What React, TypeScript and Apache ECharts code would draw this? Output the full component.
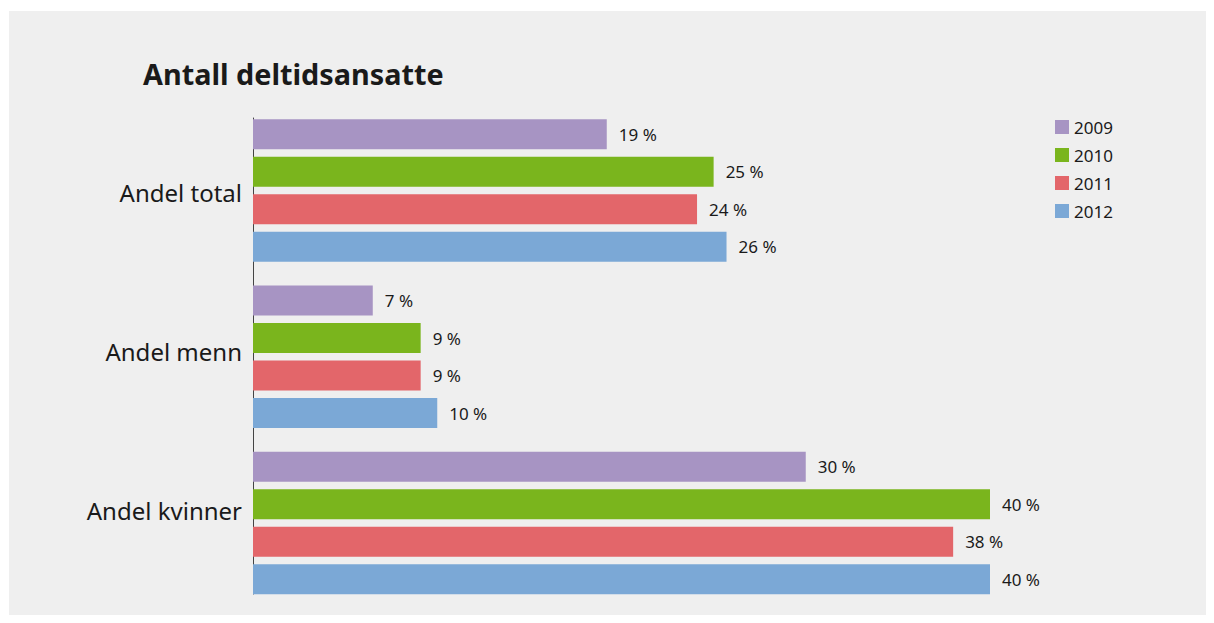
import React, { useEffect, useRef } from "react";
import * as echarts from "echarts";

const categories = ["Andel total", "Andel menn", "Andel kvinner"];
const years = ["2009", "2010", "2011", "2012"];
const v2009 = [19.2, 6.5, 30];
const v2010 = [25, 9.1, 40];
const v2011 = [24.1, 9.1, 38];
const v2012 = [25.7, 10, 40];
const seriesValues = [v2009, v2010, v2011, v2012];
const colors = ["#a794c3", "#7ab51d", "#e3666a", "#7ba8d6"];
const FONT = "'Noto Sans', sans-serif";

export default function App() {
  const ref = useRef<HTMLDivElement>(null);
  useEffect(() => {
    if (!ref.current) return;
    const chart = echarts.init(ref.current, undefined, { renderer: "svg" });
    chart.setOption({
      animation: false,
      backgroundColor: "#ffffff",
      graphic: [
        {
          type: "rect",
          z: -100,
          silent: true,
          shape: { x: 9, y: 11, width: 1197, height: 604 },
          style: { fill: "#efefef" },
        },
      ],
      title: {
        text: "Antall deltidsansatte",
        left: 143,
        top: 59,
        padding: 0,
        textStyle: { fontFamily: FONT, fontSize: 28.8, fontWeight: "bold", color: "#1a1a1a" },
      },
      legend: {
        orient: "vertical",
        left: 1055,
        top: 118.5,
        padding: 0,
        itemWidth: 14,
        itemHeight: 14,
        itemGap: 11,
        icon: "rect",
        data: years,
        textStyle: { fontFamily: FONT, fontSize: 17, color: "#1a1a1a" },
      },
      grid: [
        { left: 253, width: 737, top: 107.5, height: 498.5 },
        { left: 253, width: 737, top: 118, height: 476 },
      ],
      xAxis: [
        { type: "value", gridIndex: 0, min: 0, max: 40, show: false },
        { type: "value", gridIndex: 1, min: 0, max: 40, show: false },
      ],
      yAxis: [
        { type: "category", gridIndex: 0, data: categories, inverse: true, show: false },
        {
          type: "category",
          gridIndex: 1,
          data: categories,
          inverse: true,
          axisLine: { show: true, lineStyle: { color: "#444", width: 1 } },
          axisTick: { show: false },
          axisLabel: {
            fontFamily: FONT,
            fontSize: 24,
            color: "#1a1a1a",
            margin: 11,
            lineHeight: 9,
            verticalAlign: "bottom",
          },
          splitLine: { show: false },
        },
      ],
      series: years.map((y, i) => ({
        name: y,
        type: "bar",
        xAxisIndex: 0,
        yAxisIndex: 0,
        data: seriesValues[i],
        barWidth: 30,
        barGap: "25%",
        itemStyle: { color: colors[i] },
        label: {
          show: true,
          position: "right",
          distance: 12,
          fontFamily: FONT,
          fontSize: 17,
          color: "#1a1a1a",
          formatter: (p: any) => Math.round(p.value) + " %",
        },
      })),
    });
    return () => chart.dispose();
  }, []);
  return (
    <div
      ref={ref}
      style={{ position: "absolute", left: 0, top: 0, width: 1214, height: 623 }}
    />
  );
}
